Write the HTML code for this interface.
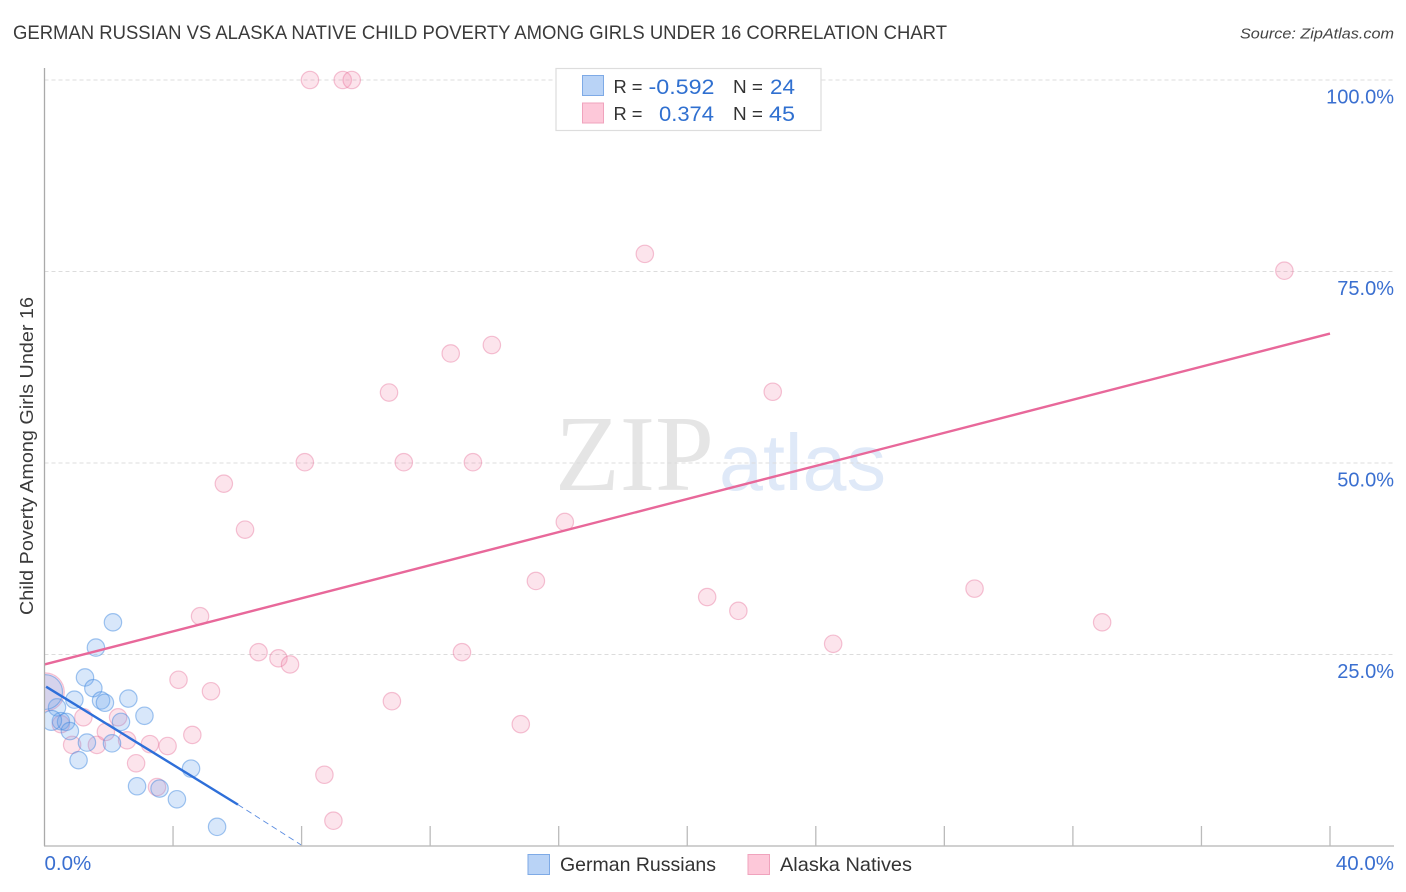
<!DOCTYPE html>
<html lang="en">
<head>
<meta charset="utf-8">
<title>German Russian vs Alaska Native Child Poverty Among Girls Under 16 Correlation Chart</title>
<style>
html,body{margin:0;padding:0;background:#fff;width:1406px;height:892px;overflow:hidden}
svg{display:block;font-family:"Liberation Sans",sans-serif}
</style>
</head>
<body>
<svg id="chart" width="1406" height="892" viewBox="0 0 1406 892" xmlns="http://www.w3.org/2000/svg">
  <defs><clipPath id="plot-clip"><rect x="45" y="60" width="1349" height="786"/></clipPath></defs>
  <rect width="1406" height="892" fill="#fff"/>
  <text x="13" y="39" font-size="19" fill="#3a3a3a" textLength="934" lengthAdjust="spacingAndGlyphs">GERMAN RUSSIAN VS ALASKA NATIVE CHILD POVERTY AMONG GIRLS UNDER 16 CORRELATION CHART</text>
  <text x="1394" y="38.5" font-size="15" font-style="italic" fill="#444" text-anchor="end" textLength="154" lengthAdjust="spacingAndGlyphs">Source: ZipAtlas.com</text>
  <text x="555" y="490" font-family="'Liberation Serif',serif" font-size="108" fill="#e5e5e5" textLength="159" lengthAdjust="spacingAndGlyphs">ZIP</text>
  <text x="719" y="490" font-size="80" fill="#dfe9f8" textLength="167" lengthAdjust="spacingAndGlyphs">atlas</text>
  <g id="grid"></g>
  <g id="dots" clip-path="url(#plot-clip)"></g>
  <g id="trends"></g>
  <g id="axes">
    <line x1="44.5" y1="68" x2="44.5" y2="846" stroke="#aaa" stroke-width="1.3"/>
    <line x1="44" y1="846" x2="1394" y2="846" stroke="#b4b4b4" stroke-width="1.3"/>
  </g>
  <g id="ticklabels"></g>
  <text transform="translate(33,456) rotate(-90)" font-size="18.5" fill="#3a3a3a" text-anchor="middle" textLength="318" lengthAdjust="spacingAndGlyphs">Child Poverty Among Girls Under 16</text>

  <g>
    <rect x="556" y="68.5" width="265" height="62" fill="#fff" stroke="#ddd" stroke-width="1.2"/>
    <rect x="582.5" y="75.5" width="21" height="20" fill="#b9d3f6" stroke="#7eaae6"/>
    <rect x="582.5" y="103" width="21" height="20" fill="#fdc8d9" stroke="#f0a3bd"/>
    <text x="613.5" y="93" font-size="18.5" fill="#333" textLength="29" lengthAdjust="spacingAndGlyphs">R =</text>
    <text x="714.5" y="94" font-size="21.5" fill="#3070d0" text-anchor="end" textLength="66" lengthAdjust="spacingAndGlyphs">-0.592</text>
    <text x="733" y="93" font-size="18.5" fill="#333" textLength="30" lengthAdjust="spacingAndGlyphs">N =</text>
    <text x="795" y="94" font-size="21.5" fill="#3070d0" text-anchor="end" textLength="25" lengthAdjust="spacingAndGlyphs">24</text>
    <text x="613.5" y="120" font-size="18.5" fill="#333" textLength="29" lengthAdjust="spacingAndGlyphs">R =</text>
    <text x="714" y="121" font-size="21.5" fill="#3070d0" text-anchor="end" textLength="55" lengthAdjust="spacingAndGlyphs">0.374</text>
    <text x="733" y="120" font-size="18.5" fill="#333" textLength="30" lengthAdjust="spacingAndGlyphs">N =</text>
    <text x="795" y="121" font-size="21.5" fill="#3070d0" text-anchor="end" textLength="26" lengthAdjust="spacingAndGlyphs">45</text>
  </g>

  <g>
    <rect x="528" y="854.5" width="21.5" height="20" fill="#b9d3f6" stroke="#7eaae6"/>
    <text x="560" y="871" font-size="19.5" fill="#333" textLength="156" lengthAdjust="spacingAndGlyphs">German Russians</text>
    <rect x="748" y="854.5" width="21.5" height="20" fill="#fdc8d9" stroke="#f0a3bd"/>
    <text x="780" y="871" font-size="19.5" fill="#333" textLength="132" lengthAdjust="spacingAndGlyphs">Alaska Natives</text>
  </g>
</svg>
<script>
// Chart data (percent units)
var yTickValues = [25, 50, 75, 100];
var yTickLabels = ["25.0%", "50.0%", "75.0%", "100.0%"];
var xTickValues = [4, 8, 12, 16, 20, 24, 28, 32, 36, 40];
var xEndValues = [0, 40];
var xEndLabels = ["0.0%", "40.0%"];

var germanX = [2.13,1.60,1.26,1.52,0.93,1.76,1.88,2.61,3.11,2.38,0.39,0.51,0.67,0.22,0.79,1.32,2.10,1.06,2.88,3.58,4.12,4.56,5.37,0.02];
var germanY = [29.2,25.9,22.0,20.6,19.1,19.0,18.7,19.25,17.0,16.2,18.1,16.3,16.2,16.4,15.0,13.5,13.4,11.2,7.8,7.5,6.1,10.1,2.5,20.1];
var germanWeight = [1,1,1,1,1,1,1,1,1,1,1,1,1,1.15,1,1,1,1,1,1,1,1,1,2];

var alaskaX = [8.26,9.28,9.56,18.68,38.58,13.92,12.64,10.72,22.66,8.10,11.18,13.33,5.58,6.24,16.19,15.29,28.94,20.62,21.59,32.91,4.84,24.54,6.66,7.28,7.64,12.99,4.17,5.18,10.81,14.82,1.21,2.29,0.86,1.63,1.91,2.57,3.28,3.83,4.60,2.85,3.50,8.71,8.99,0.51,0.02];
var alaskaY = [100,100,100,77.3,75.1,65.4,64.3,59.2,59.3,50.1,50.1,50.1,47.3,41.3,42.3,34.6,33.6,32.5,30.7,29.2,30.0,26.4,25.3,24.5,23.7,25.3,21.7,20.2,18.9,15.9,16.8,16.8,13.2,13.2,14.9,13.8,13.3,13.05,14.5,10.8,7.7,9.3,3.3,15.9,20.1];
var alaskaWeight = [1,1,1,1,1,1,1,1,1,1,1,1,1,1,1,1,1,1,1,1,1,1,1,1,1,1,1,1,1,1,1,1,1,1,1,1,1,1,1,1,1,1,1,1,2.2];

var alaskaTrendX = [0, 40];
var alaskaTrendY = [23.7, 66.9];
var germanTrendX = [0.05, 6.02];
var germanTrendY = [20.8, 5.4];
var germanTrendDashX = [6.02, 8.0];
var germanTrendDashY = [5.4, 0.1];

// Axis functions
function xScale(v) { return 44.5 + v * (1330 - 44.5) / 40; }
function yScale(v) { return 846 - v * (846 - 80) / 100; }
var baseRadius = 8.7;
var NS = "http://www.w3.org/2000/svg";
function make(tag, parent) {
  var el = document.createElementNS(NS, tag);
  parent.appendChild(el);
  return el;
}

var grid = document.getElementById("grid");
yTickValues.forEach(function (v) {
  var g = make("line", grid);
  
  
  g.setAttribute("x1", 44.5);
  g.setAttribute("x2", 1394);
  g.setAttribute("y1", yScale(v));
  g.setAttribute("y2", yScale(v));
  g.setAttribute("stroke", "#dcdcdc");
  g.setAttribute("stroke-width", "1");
  g.setAttribute("stroke-dasharray", "4 3");
});

var axes = document.getElementById("axes");
xTickValues.forEach(function (v) {
  var t = make("line", axes);
  
  
  t.setAttribute("x1", xScale(v));
  t.setAttribute("x2", xScale(v));
  t.setAttribute("y1", 826);
  t.setAttribute("y2", 846);
  t.setAttribute("stroke", "#bbb");
  t.setAttribute("stroke-width", "1.3");
});

var labels = document.getElementById("ticklabels");
yTickValues.forEach(function (v, i) {
  var t = make("text", labels);
  
  
  t.setAttribute("x", 1394);
  t.setAttribute("y", yScale(v) + 23.5);
  t.setAttribute("font-size", "20");
  t.setAttribute("fill", "#3a6fd0");
  t.setAttribute("text-anchor", "end");
  t.textContent = yTickLabels[i];
});
xEndValues.forEach(function (v, i) {
  var t = make("text", labels);
  
  
  t.setAttribute("x", i === 0 ? xScale(v) : 1394);
  t.setAttribute("y", 870);
  t.setAttribute("font-size", "20.5");
  t.setAttribute("fill", "#3a6fd0");
  t.setAttribute("text-anchor", i === 0 ? "start" : "end");
  t.textContent = xEndLabels[i];
});

var dots = document.getElementById("dots");
alaskaX.forEach(function (v, i) {
  var c = make("circle", dots);
  
  
  c.setAttribute("cx", xScale(v));
  c.setAttribute("cy", yScale(alaskaY[i]));
  c.setAttribute("r", baseRadius * alaskaWeight[i]);
  c.setAttribute("fill", "#f48fb1");
  c.setAttribute("fill-opacity", "0.24");
  c.setAttribute("stroke", "#e8739b");
  c.setAttribute("stroke-opacity", "0.42");
  c.setAttribute("stroke-width", "1.2");
});
germanX.forEach(function (v, i) {
  var c = make("circle", dots);
  
  
  c.setAttribute("cx", xScale(v));
  c.setAttribute("cy", yScale(germanY[i]));
  c.setAttribute("r", baseRadius * germanWeight[i]);
  c.setAttribute("fill", "#6ea8ee");
  c.setAttribute("fill-opacity", "0.27");
  c.setAttribute("stroke", "#3f87e0");
  c.setAttribute("stroke-opacity", "0.48");
  c.setAttribute("stroke-width", "1.2");
});

var trends = document.getElementById("trends");
var lineA = make("line", trends);


lineA.setAttribute("x1", xScale(alaskaTrendX[0]));
lineA.setAttribute("y1", yScale(alaskaTrendY[0]));
lineA.setAttribute("x2", xScale(alaskaTrendX[1]));
lineA.setAttribute("y2", yScale(alaskaTrendY[1]));
lineA.setAttribute("stroke", "#e8689a");
lineA.setAttribute("stroke-width", "2.4");
var lineG = make("line", trends);


lineG.setAttribute("x1", xScale(germanTrendX[0]));
lineG.setAttribute("y1", yScale(germanTrendY[0]));
lineG.setAttribute("x2", xScale(germanTrendX[1]));
lineG.setAttribute("y2", yScale(germanTrendY[1]));
lineG.setAttribute("stroke", "#2e6fd9");
lineG.setAttribute("stroke-width", "2.4");
var lineD = make("line", trends);


lineD.setAttribute("x1", xScale(germanTrendDashX[0]));
lineD.setAttribute("y1", yScale(germanTrendDashY[0]));
lineD.setAttribute("x2", xScale(germanTrendDashX[1]));
lineD.setAttribute("y2", yScale(germanTrendDashY[1]));
lineD.setAttribute("stroke", "#5a8ce0");
lineD.setAttribute("stroke-width", "0.9");
lineD.setAttribute("stroke-dasharray", "6 4");
</script>
</body>
</html>
